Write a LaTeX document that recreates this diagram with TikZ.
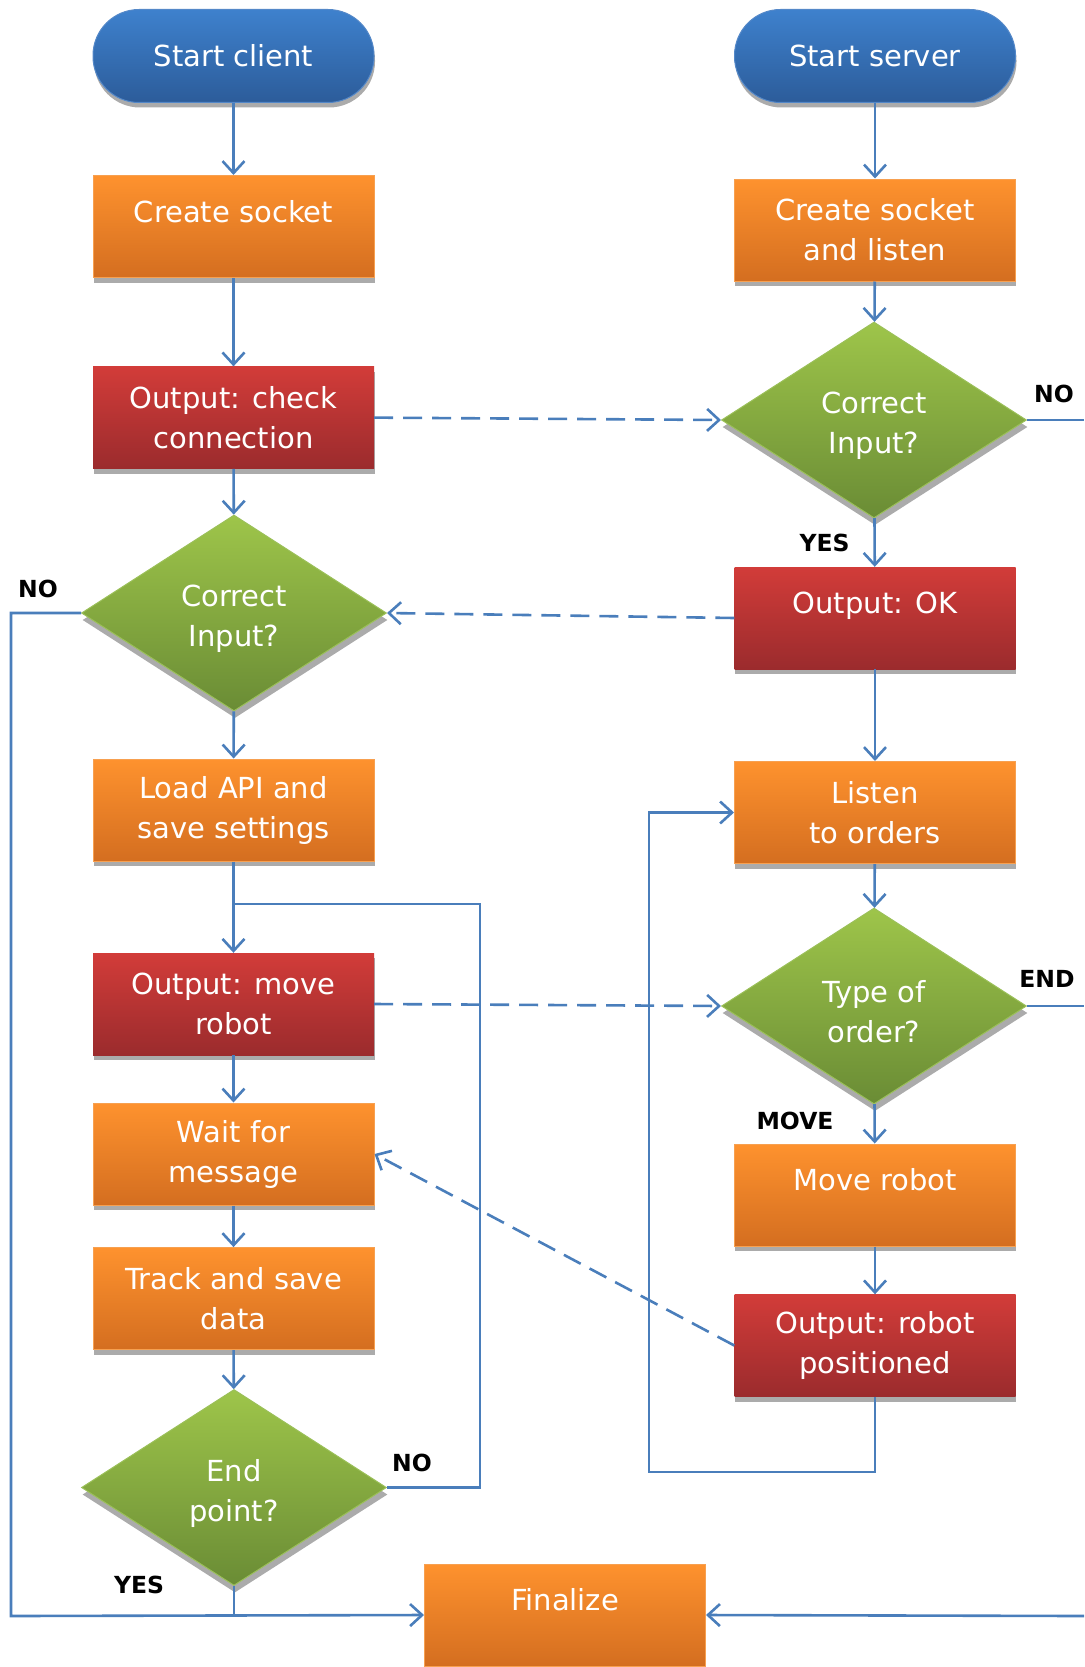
\documentclass[tikz,border=0pt]{standalone}
\usepackage{fontspec}
\setmainfont{DejaVu Sans}
\usetikzlibrary{shapes.geometric,shadows,arrows.meta}
\definecolor{ln}{RGB}{74,126,187}
\definecolor{orT}{RGB}{254,146,46}
\definecolor{orB}{RGB}{212,110,32}
\definecolor{orL}{RGB}{247,160,80}
\definecolor{rdT}{RGB}{210,60,57}
\definecolor{rdB}{RGB}{155,43,45}
\definecolor{grT}{RGB}{158,197,74}
\definecolor{grB}{RGB}{106,140,53}
\definecolor{grL}{RGB}{155,192,89}
\definecolor{blT}{RGB}{62,129,205}
\definecolor{blB}{RGB}{44,92,154}
\definecolor{blL}{RGB}{84,136,200}
\newcommand\dlift{\rule{0pt}{34pt}}
\begin{document}
\begin{tikzpicture}[x=1pt,y=-1pt,
  base/.style={inner sep=0pt, align=center, text=white, font=\fontsize{29}{40}\selectfont},
  box/.style={base, rectangle, minimum width=281pt, minimum height=102pt,
    general shadow={fill=black!33, shadow xshift=0.5pt, shadow yshift=-5pt}},
  obox/.style={box, top color=orT, bottom color=orB, draw=orL, line width=1pt},
  rbox/.style={box, top color=rdT, bottom color=rdB},
  one/.style={text height=22pt, text depth=31pt},
  pill/.style={base, rectangle, rounded corners=46pt, minimum width=281pt, minimum height=93pt,
    top color=blT, bottom color=blB, draw=blL, line width=1pt,
    general shadow={fill=black!33, shadow xshift=1pt, shadow yshift=-5pt}},
  dia/.style={base, diamond, minimum width=305pt, minimum height=196pt,
    top color=grT, bottom color=grB, draw=grL, line width=1pt,
    general shadow={fill=black!33, shadow xshift=1pt, shadow yshift=-7pt}},
  conn/.style={draw=ln, line width=2.6pt},
  arr/.style={conn, -{Straight Barb[length=12pt,width=22pt]}},
  dsh/.style={arr, dash pattern=on 19pt off 10pt},
  lab/.style={inner sep=0pt, text=black, font=\bfseries\fontsize{23.5}{25}\selectfont}
]
\useasboundingbox (0,0) rectangle (1084,1667);

% left column
\node[pill] (startc) at (233.5,56) {Start client};
\node[obox,one] (cs) at (233.5,226.5) {Create socket};
\node[rbox] (occ) at (233.5,417.6) {Output: check\\connection};
\node[dia] (cin1) at (234,613) {\dlift Correct\\Input?};
\node[obox] (load) at (233.5,810) {Load API and\\save settings};
\node[rbox] (omr) at (233.5,1004) {Output: move\\robot};
\node[obox] (wait) at (233.5,1154) {Wait for\\message};
\node[obox] (track) at (233.5,1298.6) {Track and save\\data};
\node[dia] (endp) at (234,1487.5) {\dlift End\\point?};

% right column
\node[pill] (starts) at (875,56) {Start server};
\node[obox] (csl) at (875,230) {Create socket\\and listen};
\node[dia] (cin2) at (874,420) {\dlift Correct\\Input?};
\node[rbox,one] (ok) at (875,618) {Output: OK};
\node[obox] (listen) at (875,812.5) {Listen\\to orders};
\node[dia] (type) at (874,1006) {\dlift Type of\\order?};
\node[obox,one] (move) at (875,1195) {Move robot};
\node[rbox] (orp) at (875,1345.5) {Output: robot\\positioned};

% finalize
\node[obox,one] (fin) at (565,1615) {Finalize};

% labels
\node[lab] (l1) at (1054,394) {NO};
\node[lab] (l2) at (824.6,543) {YES};
\node[lab] (l3) at (38,589) {NO};
\node[lab] (l4) at (1047,979) {END};
\node[lab] (l5) at (795,1121) {MOVE};
\node[lab] (l6) at (412,1463) {NO};
\node[lab] (l7) at (139,1584.5) {YES};

% helper coordinates
\coordinate (jn) at (233.5,904);
\coordinate (loopR) at (480,1487.5);
\coordinate (lft) at (11,1616);
\coordinate (rl) at (649,1472);
\coordinate (eNO) at (1084,420);
\coordinate (eEND) at (1084,1006);
\coordinate (eFin) at (1084,1616);

% left flow
\draw[arr] (startc) -- (cs);
\draw[arr] (cs) -- (occ);
\draw[arr] (occ) -- (cin1);
\draw[arr] (cin1) -- (load);
\draw[arr] (load) -- (omr);
\draw[arr] (omr) -- (wait);
\draw[arr] (wait) -- (track);
\draw[arr] (track) -- (endp);
\draw[conn] (endp.east) -- (loopR) |- (jn);
\draw[arr] (cin1.west) -| (lft) -- (fin.west);
\draw[conn] (endp.south) -- (endp.south |- lft);

% right flow
\draw[arr] (starts) -- (csl);
\draw[arr] (csl) -- (cin2);
\draw[arr] (cin2) -- (ok);
\draw[arr] (ok) -- (listen);
\draw[arr] (listen) -- (type);
\draw[arr] (type) -- (move);
\draw[arr] (move) -- (orp);
\draw[arr] (orp.south) |- (rl) |- (listen.west);
\draw[conn] (cin2.east) -- (eNO);
\draw[conn] (type.east) -- (eEND);
\draw[arr] (eFin) -- (fin.east);

% messages
\draw[dsh] (occ.east) -- (cin2.west);
\draw[dsh] (ok.west) -- (cin1.east);
\draw[dsh] (omr.east) -- (type.west);
\draw[dsh] (orp.west) -- (wait.east);
\end{tikzpicture}
\end{document}
